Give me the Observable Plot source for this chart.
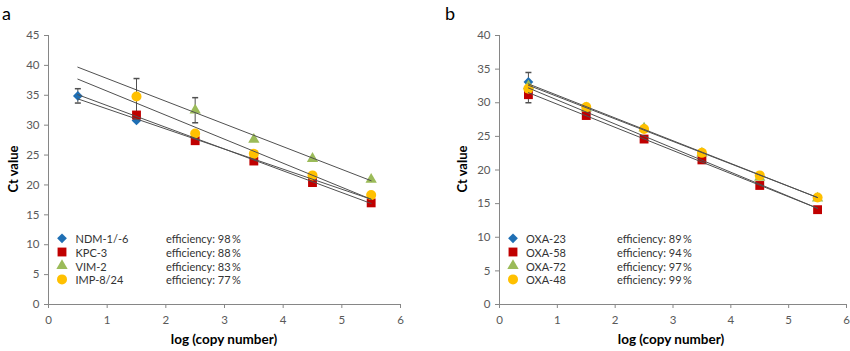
<!DOCTYPE html>
<html><head><meta charset="utf-8">
<script src="https://cdn.jsdelivr.net/npm/d3@7"></script>
<script src="https://cdn.jsdelivr.net/npm/@observablehq/plot@0.6"></script>
<style>
body{margin:0;background:#fff;}
#wrap{position:relative;width:850px;height:351px;font-family:Lato, sans-serif;overflow:hidden;}
#wrap > svg{position:absolute;top:0;}
</style></head><body><div id="wrap"></div>
<script>
// ---- shared ----
const xValues = [0.5, 1.5, 2.5, 3.5, 4.5, 5.5];
const xTicks = [0, 1, 2, 3, 4, 5, 6];
const trendX = [0.5, 5.5];
const xTitle = "log (copy number)";
const yTitle = "Ct value";

// ---- panel a ----
const seriesA = ["NDM-1/-6", "KPC-3", "VIM-2", "IMP-8/24"];
const efficiencyA = [98, 88, 83, 77];
const ctNDM = [34.9, 30.8, null, null, null, null];
const ctKPC = [null, 31.7, 27.4, 24.0, 20.4, 17.0];
const ctVIM = [null, null, 32.5, 27.6, 24.4, 20.9];
const ctIMP = [null, 34.8, 28.6, 25.2, 21.6, 18.3];
const errNDM = [1.2, null, null, null, null, null];
const errKPC = [null, null, null, null, null, null];
const errVIM = [null, null, 2.1, null, null, null];
const errIMP = [null, 3.0, null, null, null, null];
const trendStartA = [34.4, 35.1, 39.7, 37.7];
const trendEndA = [17.6, 16.9, 20.7, 17.6];
const yTicksA = [0, 5, 10, 15, 20, 25, 30, 35, 40, 45];

// ---- panel b ----
const seriesB = ["OXA-23", "OXA-58", "OXA-72", "OXA-48"];
const efficiencyB = [89, 94, 97, 99];
const ctOXA23 = [33.1, null, null, null, null, null];
const ctOXA58 = [31.2, 28.1, 24.6, 21.5, 17.7, 14.1];
const ctOXA72 = [32.5, 29.2, 26.2, 22.5, 18.9, 15.8];
const ctOXA48 = [32.1, 29.35, 26.1, 22.55, 19.2, 15.9];
const errOXA23 = [1.4, null, null, null, null, null];
const errOXA58 = [1.2, null, null, null, null, null];
const errOXA72 = [null, null, null, null, null, null];
const errOXA48 = [null, null, null, null, null, null];
const trendStartB = [32.2, 31.5, 32.8, 32.6];
const trendEndB = [14.3, 14.3, 15.9, 15.9];
const yTicksB = [0, 5, 10, 15, 20, 25, 30, 35, 40];

// ---- styles ----
const colors = ["#1f6fb4", "#c00000", "#9bbb59", "#ffc000"];
const symbols = ["diamond2", "square", "triangle", "circle"];
const d3symbols = [d3.symbolDiamond2, d3.symbolSquare, d3.symbolTriangle, d3.symbolCircle];
const radii = [4.4, 5, 4.2, 5];
const axisGrey = "#868686";
const labelGrey = "#595959";
const lineGrey = "#505050";

const capSymbol = {draw(ctx) { ctx.moveTo(-3, 0); ctx.lineTo(3, 0); }};

function buildPanel(ctArrays, errArrays, starts, ends, yDomain, yTicks, margins) {
  const pts = ctArrays.map((arr, s) =>
    arr.map((y, j) => ({s, x: xValues[j], y, err: errArrays[s][j]})).filter(d => d.y != null));
  const errs = pts.flat().filter(d => d.err != null);
  const trend = starts.flatMap((v, s) => [{s, x: trendX[0], y: v}, {s, x: trendX[1], y: ends[s]}]);
  return Plot.plot({
    width: 425, height: 351,
    marginLeft: margins[0], marginRight: margins[1], marginTop: 35, marginBottom: 47,
    style: {fontFamily: "Lato, sans-serif", fontSize: "11.5px", background: "transparent", overflow: "visible"},
    x: {domain: [0, 6]},
    y: {domain: yDomain},
    marks: [
      Plot.axisY({ticks: yTicks, tickFormat: "d", tickSize: 4, tickPadding: 5, stroke: axisGrey, fill: labelGrey, label: null}),
      Plot.axisX({ticks: xTicks, tickFormat: "d", tickSize: 4, tickPadding: 7, stroke: axisGrey, fill: labelGrey, label: null}),
      Plot.ruleX([0], {stroke: axisGrey}),
      Plot.ruleY([0], {stroke: axisGrey}),
      Plot.ruleX(errs, {x: "x", y1: d => d.y - d.err, y2: d => d.y + d.err, stroke: lineGrey}),
      Plot.dot(errs, {x: "x", y: d => d.y + d.err, symbol: capSymbol, stroke: lineGrey, fill: "none", r: 3}),
      Plot.dot(errs, {x: "x", y: d => d.y - d.err, symbol: capSymbol, stroke: lineGrey, fill: "none", r: 3}),
      ...pts.map((p, s) => Plot.dot(p, {x: "x", y: "y", symbol: symbols[s], fill: colors[s], stroke: "none", r: radii[s]})),
      Plot.line(trend, {x: "x", y: "y", z: "s", stroke: lineGrey, strokeWidth: 1})
    ]
  });
}

const wrap = document.getElementById("wrap");
const pa = buildPanel([ctNDM, ctKPC, ctVIM, ctIMP], [errNDM, errKPC, errVIM, errIMP],
  trendStartA, trendEndA, [0, 45], yTicksA, [48, 25]);
pa.style.left = "0px";
wrap.appendChild(pa);
const pb = buildPanel([ctOXA23, ctOXA58, ctOXA72, ctOXA48], [errOXA23, errOXA58, errOXA72, errOXA48],
  trendStartB, trendEndB, [0, 40], yTicksB, [74, 4]);
pb.style.left = "425px";
wrap.appendChild(pb);

// ---- overlay: titles and legends ----
const ov = d3.select(wrap).append("svg").attr("width", 850).attr("height", 351)
  .style("left", "0px").style("font-family", "Lato, sans-serif");

function addTexts(offset, letter, names, effs, legX) {
  ov.append("text").attr("x", offset + (offset ? 20 : 2)).attr("y", 20).attr("font-size", 18).attr("fill", "#000").text(letter);
  ov.append("text").attr("transform", `translate(${offset + (offset ? 42 : 17.5)},169) rotate(-90)`)
    .attr("text-anchor", "middle").attr("font-weight", "bold").attr("font-size", 13).attr("fill", "#000").text(yTitle);
  ov.append("text").attr("x", offset + (offset ? 246 : 224)).attr("y", 344).attr("text-anchor", "middle")
    .attr("font-weight", "bold").attr("font-size", 13.5).attr("fill", "#000").text(xTitle);
  names.forEach((n, i) => {
    const base = 243.3 + i * 13.7;
    ov.append("path").attr("transform", `translate(${legX[0]},${base - 5})`)
      .attr("d", d3.symbol().type(d3symbols[i]).size(Math.PI * radii[i] * radii[i])()).attr("fill", colors[i]);
    ov.append("text").attr("x", legX[1]).attr("y", base).attr("font-size", 11).attr("fill", "#333").text(n);
    ov.append("text").attr("x", legX[2]).attr("y", base).attr("font-size", 11).attr("fill", "#333")
      .text(`efficiency: ${effs[i]}\u2009%`);
  });
}
addTexts(0, "a", seriesA, efficiencyA, [62, 75.5, 166]);
addTexts(425, "b", seriesB, efficiencyB, [513, 526, 617]);
</script></body></html>
